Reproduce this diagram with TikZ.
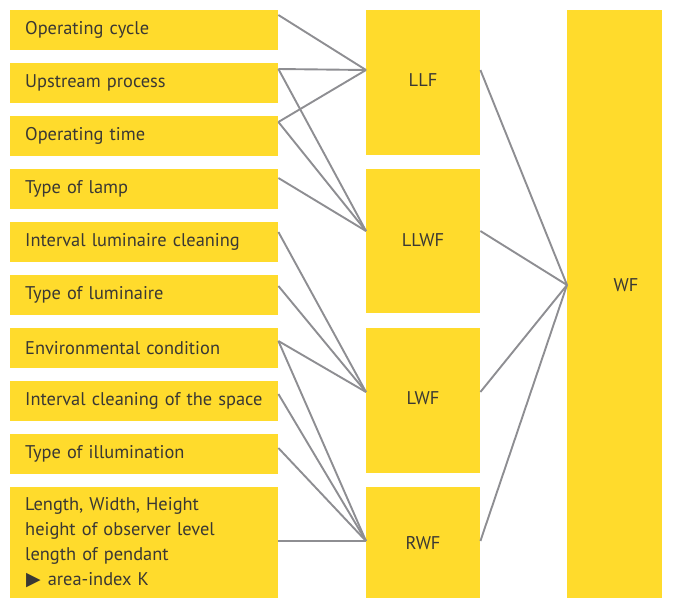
\documentclass[tikz,border=0pt]{standalone}
\usepackage{fontspec}
\setmainfont{PT Sans}
\newfontfamily\symfont{DejaVu Sans}
\usetikzlibrary{calc}
\definecolor{ybg}{HTML}{FFDB2C}
\definecolor{txt}{HTML}{3A3834}
\definecolor{lne}{HTML}{8E8E92}
\begin{document}
\begin{tikzpicture}[x=1pt,y=-1pt,
  lbox/.style={fill=ybg, minimum width=268pt, minimum height=40pt, anchor=north west,
    inner xsep=15pt, inner ysep=0pt, text width=238pt, align=left, text=txt,
    font=\fontsize{18.4}{25}\selectfont},
  mbox/.style={fill=ybg, minimum width=114pt, anchor=north west, inner sep=0pt},
  mlabel/.style={text=txt, font=\fontsize{18.4}{22}\selectfont, inner sep=0pt},
  conn/.style={draw=lne, line width=1.9pt}]
\useasboundingbox (0,0) rectangle (676,600);
% left boxes
\node[lbox] (b1) at (10,10) {Operating cycle};
\node[lbox] (b2) at (10,63) {Upstream process};
\node[lbox] (b3) at (10,116) {Operating time};
\node[lbox] (b4) at (10,169) {Type of lamp};
\node[lbox] (b5) at (10,222) {Interval luminaire cleaning};
\node[lbox] (b6) at (10,275) {Type of luminaire};
\node[lbox] (b7) at (10,328) {Environmental condition};
\node[lbox] (b8) at (10,381) {Interval cleaning of the space};
\node[lbox] (b9) at (10,434) {Type of illumination};
\node[lbox, minimum height=111pt] (b10) at (10,487) {Length, Width, Height\\height of observer level\\length of pendant\\\hspace*{1pt}{\symfont\fontsize{19}{25}\selectfont ▶}\hspace{7pt}area-index K};
% middle boxes
\node[mbox, minimum height=145pt] (llf) at (366,10) {};
\node[mbox, minimum height=144pt] (llwf) at (366,169) {};
\node[mbox, minimum height=145pt] (lwf) at (366,328) {};
\node[mbox, minimum height=111pt] (rwf) at (366,487) {};
\node[mbox, minimum width=95pt, minimum height=588pt] (wf) at (567,10) {};
\node[mlabel] (tllf) at (423,80) {LLF};
\node[mlabel] (tllwf) at (423,240) {LLWF};
\node[mlabel] (tlwf) at (423,398) {LWF};
\node[mlabel] (trwf) at (423,543) {RWF};
\node[mlabel] (twf) at (626,285) {WF};
% connection points
\coordinate (llfL) at ($(llf.north west)+(0,60)$);
\coordinate (llwfL) at ($(llwf.north west)+(0,62)$);
\coordinate (lwfL) at ($(lwf.north west)+(0,64)$);
\coordinate (rwfL) at ($(rwf.north west)+(0,54)$);
\coordinate (llfR) at ($(llf.north east)+(0,60)$);
\coordinate (llwfR) at ($(llwf.north east)+(0,62)$);
\coordinate (lwfR) at ($(lwf.north east)+(0,64)$);
\coordinate (rwfR) at ($(rwf.north east)+(0,54)$);
\coordinate (wfL) at ($(wf.north west)+(0,275)$);
\coordinate (s1) at ($(b1.north east)+(0,5)$);
\coordinate (s2) at ($(b2.north east)+(0,6)$);
\coordinate (s3) at ($(b3.north east)+(0,6)$);
\coordinate (s4) at ($(b4.north east)+(0,9)$);
\coordinate (s5) at ($(b5.north east)+(0,10)$);
\coordinate (s6) at ($(b6.north east)+(0,11)$);
\coordinate (s7) at ($(b7.north east)+(0,13)$);
\coordinate (s8) at ($(b8.north east)+(0,13)$);
\coordinate (s9) at ($(b9.north east)+(0,14)$);
\coordinate (s10) at ($(b10.north east)+(0,54)$);
% connectors
\draw[conn] (s1) -- (llfL);
\draw[conn] (s2) -- (llfL);
\draw[conn] (s3) -- (llfL);
\draw[conn] (s2) -- (llwfL);
\draw[conn] (s3) -- (llwfL);
\draw[conn] (s4) -- (llwfL);
\draw[conn] (s5) -- (lwfL);
\draw[conn] (s6) -- (lwfL);
\draw[conn] (s7) -- (lwfL);
\draw[conn] (s7) -- (rwfL);
\draw[conn] (s8) -- (rwfL);
\draw[conn] (s9) -- (rwfL);
\draw[conn] (s10) -- (rwfL);
\draw[conn] (llfR) -- (wfL);
\draw[conn] (llwfR) -- (wfL);
\draw[conn] (lwfR) -- (wfL);
\draw[conn] (rwfR) -- (wfL);
\end{tikzpicture}
\end{document}
